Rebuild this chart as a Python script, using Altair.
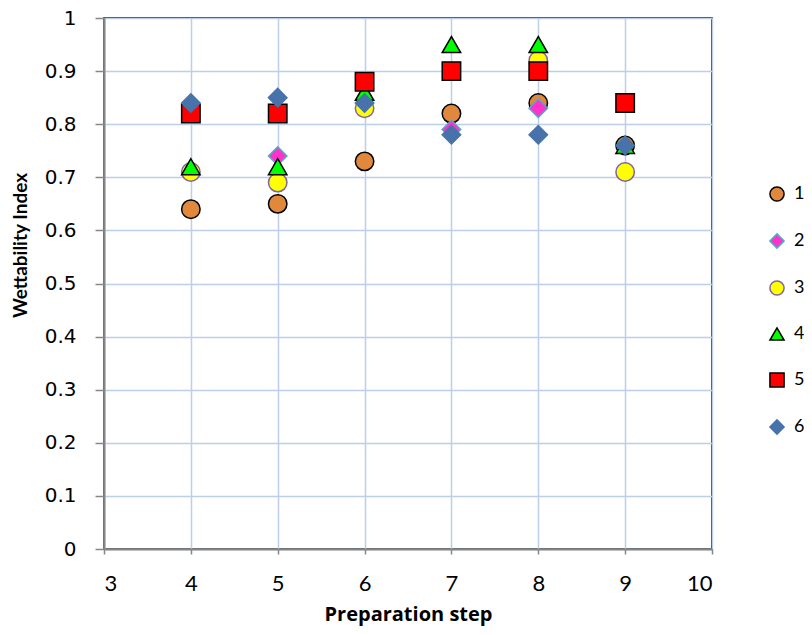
import altair as alt
import pandas as pd

steps = [4, 5, 6, 7, 8, 9]
series_names = ["1", "2", "3", "4", "5", "6"]
s1 = [0.64, 0.65, 0.73, 0.82, 0.84, 0.76]
s2 = [None, 0.74, None, 0.79, 0.83, None]
s3 = [0.71, 0.69, 0.83, None, 0.92, 0.71]
s4 = [0.72, 0.72, 0.86, 0.95, 0.95, 0.76]
s5 = [0.82, 0.82, 0.88, 0.90, 0.90, 0.84]
s6 = [0.84, 0.85, 0.84, 0.78, 0.78, 0.76]

fills = ["#E0883C", "#FF33CC", "#FFFF00", "#00FF00", "#FF0000", "#4773AA"]
strokes = ["#000000", "#4BACC6", "#8064A2", "#000000", "#000000", "#4773AA"]
shapes = ["circle", "diamond", "circle", "triangle-up", "square", "diamond"]

rows = []
for name, vals in zip(series_names, [s1, s2, s3, s4, s5, s6]):
    for x, v in zip(steps, vals):
        if v is not None:
            rows.append({"step": x, "wi": v, "series": name})
df = pd.DataFrame(rows)

legend = alt.Legend(
    title=None,
    orient="none",
    legendX=664,
    legendY=167,
    padding=0,
    rowPadding=25,
    labelOffset=8,
    labelFont="Lato",
    labelFontSize=18,
    labelColor="#000000",
    symbolSize=200,
    symbolStrokeWidth=1.5,
)

chart = (
    alt.Chart(df)
    .mark_point(filled=True, opacity=1, size=340, strokeWidth=1.5)
    .encode(
        x=alt.X(
            "step:Q",
            scale=alt.Scale(domain=[3, 10], nice=False, zero=False),
            axis=alt.Axis(
                title="Preparation step",
                values=[3, 4, 5, 6, 7, 8, 9, 10],
                format="d",
                tickSize=5,
                labelPadding=19,
                labelFont="Lato",
                labelFontSize=22,
                titlePadding=10,
                titleFont="Open Sans",
                titleFontSize=20,
            ),
        ),
        y=alt.Y(
            "wi:Q",
            scale=alt.Scale(domain=[0, 1], nice=False),
            axis=alt.Axis(
                title="Wettability Index",
                values=[0, 0.1, 0.2, 0.3, 0.4, 0.5, 0.6, 0.7, 0.8, 0.9, 1],
                format="~g",
                tickSize=9,
                labelPadding=19,
                titlePadding=14,
                titleY=227,
                labelFont="DejaVu Sans",
                labelFontSize=20,
                titleFont="Lato",
                titleFontSize=19,
            ),
        ),
        fill=alt.Fill("series:N", scale=alt.Scale(domain=series_names, range=fills), legend=legend),
        stroke=alt.Stroke("series:N", scale=alt.Scale(domain=series_names, range=strokes), legend=legend),
        shape=alt.Shape("series:N", scale=alt.Scale(domain=series_names, range=shapes), legend=legend),
    )
    .properties(
        width=608,
        height=531,
        autosize=alt.AutoSizeParams(type="none"),
        padding={"left": 96, "top": 10, "right": 92, "bottom": 78},
    )
    .configure_view(stroke="#000000", strokeWidth=1.5)
    .configure_axis(
        domainColor="#878787",
        domainWidth=2,
        tickColor="#878787",
        tickWidth=1.5,
        gridColor="#BCCFE6",
        gridWidth=1.5,
        labelColor="#000000",
        titleFontWeight="bold",
        titleColor="#000000",
    )
)

chart.save("out.html", embed_options={"renderer": "svg", "actions": False})
